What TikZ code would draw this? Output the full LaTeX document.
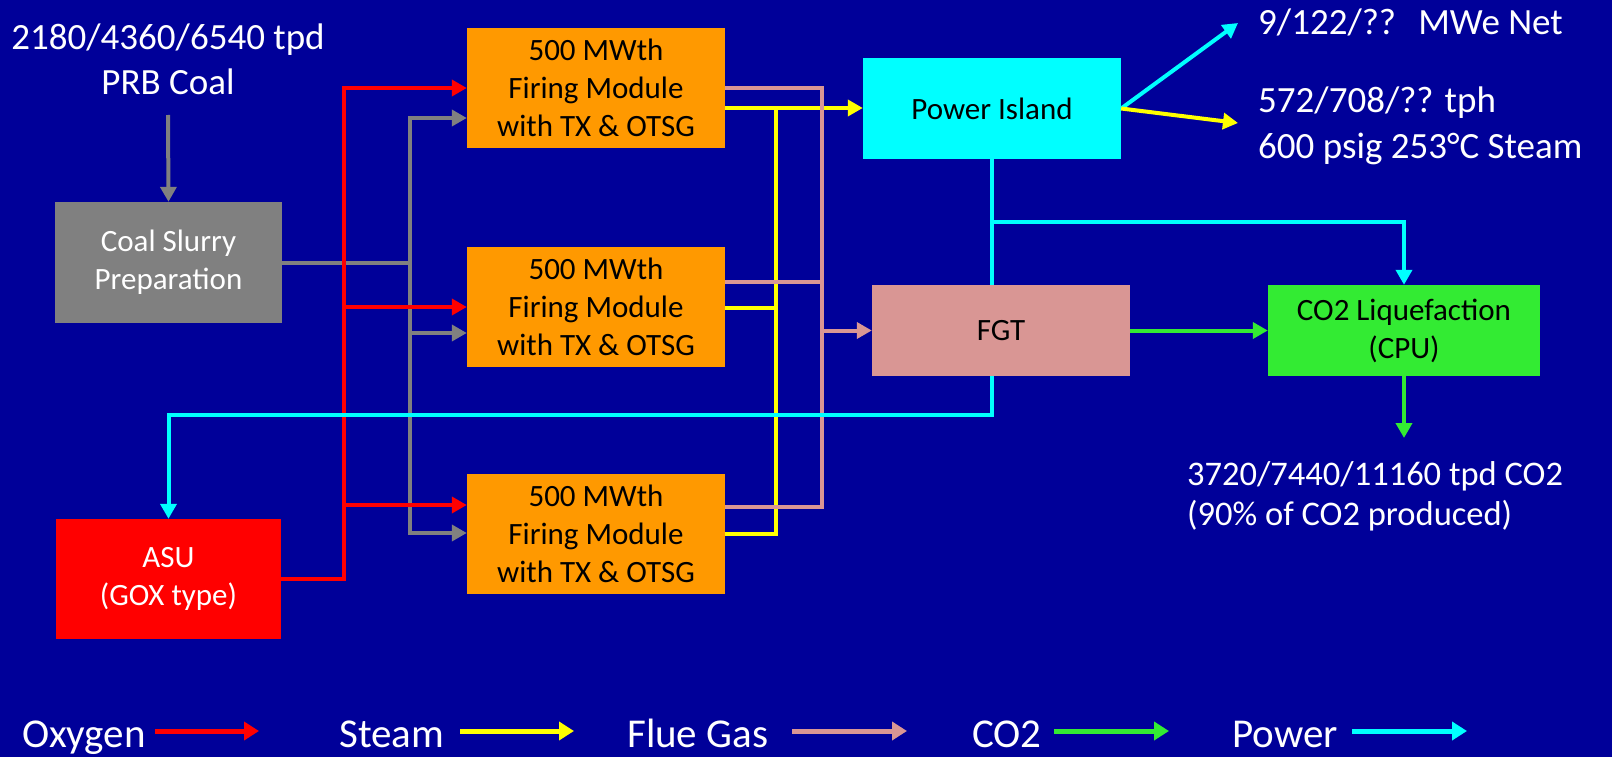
\documentclass[tikz,border=0pt]{standalone}
\usepackage{fontspec}
\setmainfont{Carlito}
\usetikzlibrary{arrows.meta}
\definecolor{bgblue}{RGB}{0,0,153}
\definecolor{modorange}{RGB}{255,153,0}
\definecolor{fgtpink}{RGB}{217,150,148}
\definecolor{liqgreen}{RGB}{51,235,51}
\definecolor{coalgray}{RGB}{128,128,128}
\definecolor{oxred}{RGB}{255,0,0}
\definecolor{powcyan}{RGB}{0,255,255}
\definecolor{stmyellow}{RGB}{255,255,0}
\newcommand\bxfont{\fontsize{31}{38}\selectfont}
\newcommand\lbfont{\fontsize{37}{45}\selectfont}
\newcommand\lgfont{\fontsize{41}{49}\selectfont}
\begin{document}
\begin{tikzpicture}[x=1pt,y=-1pt,
  box/.style={inner sep=0pt, align=center, font=\bxfont},
  lbl/.style={inner sep=0pt, text=white, font=\lbfont},
  leg/.style={inner sep=0pt, text=white, font=\lgfont, anchor=base west},
  arr/.style={-{Triangle[length=15pt,width=16pt]}},
  link/.style={line width=4pt},
  oxy/.style={link, draw=oxred},
  coal/.style={link, draw=coalgray},
  steam/.style={link, draw=stmyellow},
  flue/.style={link, draw=fgtpink},
  cotwo/.style={link, draw=liqgreen},
  pow/.style={link, draw=powcyan},
  legarr/.style={line width=5pt, -{Triangle[length=15pt,width=18pt]}}
]
\useasboundingbox (0,0) rectangle (1612,757);
\fill[bgblue] (0,0) rectangle (1612,757);

% boxes
\node[box, fill=coalgray, text=white, minimum width=227pt, minimum height=121pt] (slurry) at (168.5,262.5) {Coal Slurry\\Preparation};
\node[box, fill=oxred, text=white, minimum width=225pt, minimum height=120pt] (asu) at (168.5,579) {ASU\\(GOX type)};
\node[box, fill=modorange, minimum width=258pt, minimum height=120pt] (m1) at (596,88) {500 MWth\\Firing Module\\with TX \& OTSG};
\node[box, fill=modorange, minimum width=258pt, minimum height=120pt] (m2) at (596,307) {500 MWth\\Firing Module\\with TX \& OTSG};
\node[box, fill=modorange, minimum width=258pt, minimum height=120pt] (m3) at (596,534) {500 MWth\\Firing Module\\with TX \& OTSG};
\node[box, fill=powcyan, minimum width=258pt, minimum height=101pt] (pi) at (992,108.5) {Power Island};
\node[box, fill=fgtpink, minimum width=258pt, minimum height=91pt] (fgt) at (1001,330.5) {FGT};
\node[box, fill=liqgreen, minimum width=272pt, minimum height=91pt] (co2) at (1404,330.5) {CO2 Liquefaction\\(CPU)};

% texts (multi-line nodes: base anchor = last line baseline)
\node[lbl, align=center, anchor=base] (coaltxt) at (168,95) {2180/4360/6540 tpd\\PRB Coal};
\node[lbl, anchor=base west] (mwetxt) at (1258,35) {9/122/??\hspace{0.6em}MWe Net};
\node[lbl, align=left, anchor=base west] (stmtxt) at (1258,158) {572/708/?? tph\\600 psig 253°C Steam};
\node[lbl, align=left, anchor=base west, font=\fontsize{34.5}{40}\selectfont] (co2txt) at (1187,525) {3720/7440/11160 tpd CO2\\(90\% of CO2 produced)};

% coordinates
\coordinate (cin) at (168,115);
\coordinate (ox0) at (344,579);
\coordinate (ox1) at (344,88);
\coordinate (ox2) at (344,307);
\coordinate (ox3) at (344,505);
\coordinate (g1) at (410,118);
\coordinate (g2) at (410,333);
\coordinate (g3) at (410,533);
\coordinate (y1) at (776,108);
\coordinate (y2) at (776,308);
\coordinate (y3) at (776,534);
\coordinate (p1) at (822,88);
\coordinate (p2) at (822,282);
\coordinate (p3) at (822,507);
\coordinate (pw) at (992,415);
\coordinate (pb) at (992,222);
\coordinate (pwrout) at (1238,23);
\coordinate (stmout) at (1238,123);
\coordinate (co2out) at (1404,438);

% coal
\draw[coal,arr] (cin) -- (slurry.north);
\draw[coal,arr] (slurry.east) -| (g1) -- (m1.west |- g1);
\draw[coal,arr] (g1) |- (m3.west |- g3);
\draw[coal,arr] (g2) -- (m2.west |- g2);

% oxygen
\draw[oxy,arr] (asu.east) -| (ox1) -- (m1.west |- ox1);
\draw[oxy,arr] (ox2) -- (m2.west |- ox2);
\draw[oxy,arr] (ox3) -- (m3.west |- ox3);

% steam
\draw[steam,arr] (m3.east |- y3) -| (y1) -- (pi.west |- y1);
\draw[steam] (m1.east |- y1) -- (y1);
\draw[steam] (m2.east |- y2) -- (y2);

% flue gas
\draw[flue] (m1.east |- p1) -| (p3) -- (m3.east |- p3);
\draw[flue] (m2.east |- p2) -- (p2);
\draw[flue,arr] (fgt.west -| p1) -- (fgt.west);

% power
\draw[pow] (pi.south) -- (fgt.north -| pi.south);
\draw[pow,arr] (fgt.south -| pw) -- (pw) -| (asu.north);
\draw[pow,arr] (pb) -| (co2.north);
\draw[pow,arr] (pi.east) -- (pwrout);
\draw[steam,arr] (pi.east) -- (stmout);

% co2
\draw[cotwo,arr] (fgt.east) -- (co2.west);
\draw[cotwo,arr] (co2.south) -- (co2out);

% legend
\node[leg] (lgo) at (22,747) {Oxygen};
\node[leg] (lgs) at (339,747) {Steam};
\node[leg] (lgf) at (627,747) {Flue Gas};
\node[leg] (lgc) at (972,747) {CO2};
\node[leg] (lgp) at (1232,747) {Power};
\coordinate (la1) at (155,731); \coordinate (lb1) at (259,731);
\coordinate (la2) at (460,731); \coordinate (lb2) at (574,731);
\coordinate (la3) at (792,731); \coordinate (lb3) at (907,731);
\coordinate (la4) at (1054,731); \coordinate (lb4) at (1169,731);
\coordinate (la5) at (1352,731); \coordinate (lb5) at (1467,731);
\draw[legarr, draw=oxred, fill=oxred] (la1) -- (lb1);
\draw[legarr, draw=stmyellow, fill=stmyellow] (la2) -- (lb2);
\draw[legarr, draw=fgtpink, fill=fgtpink] (la3) -- (lb3);
\draw[legarr, draw=liqgreen, fill=liqgreen] (la4) -- (lb4);
\draw[legarr, draw=powcyan, fill=powcyan] (la5) -- (lb5);
\end{tikzpicture}
\end{document}
